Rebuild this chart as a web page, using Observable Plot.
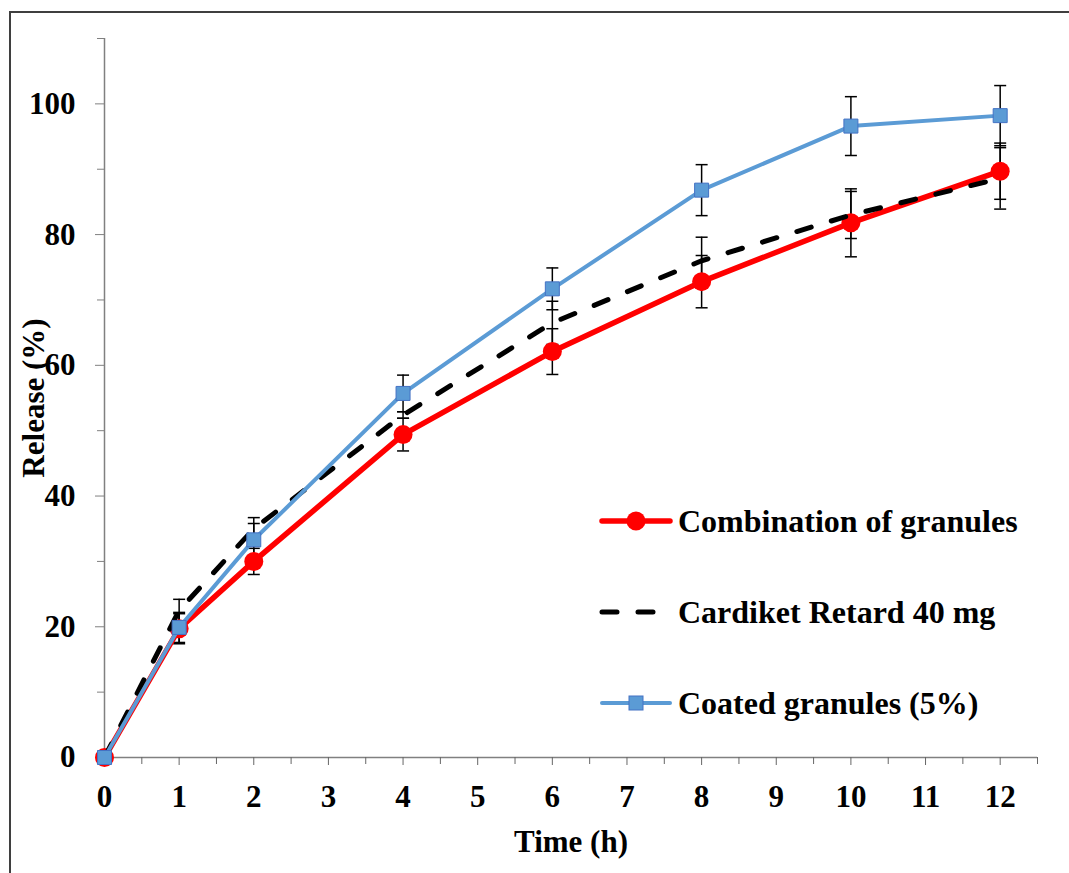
<!DOCTYPE html>
<html>
<head>
<meta charset="utf-8">
<script src="https://cdn.jsdelivr.net/npm/d3@7"></script>
<script src="https://cdn.jsdelivr.net/npm/@observablehq/plot@0.6"></script>
<style>
  html, body { margin: 0; padding: 0; background: #fff; }
  #wrap { position: relative; width: 1069px; height: 873px; overflow: hidden; background: #fff; }
  #wrap > svg { position: absolute; left: 0; top: 0; }
  #frame { position: absolute; left: 9px; top: 11px; width: 1200px; height: 1000px;
           border-top: 2px solid #3f3f3f; border-left: 2px solid #3f3f3f; pointer-events: none; }
  #legend { position: absolute; left: 0; top: 0; }
</style>
</head>
<body>
<div id="wrap"><div id="frame"></div></div>
<script>
// ---- data ----
const time = [0, 1, 2, 4, 6, 8, 10, 12];
const seriesNames = ["Combination of granules", "Cardiket Retard 40 mg", "Coated granules (5%)"];
const combination   = [0, 19.7, 30.0, 49.4, 62.1, 72.8, 81.8, 89.7];
const combinationSd = [0, 2.3, 2.0, 2.5, 3.5, 4.0, 5.2, 4.3];
const cardiket      = [0, 22.5, 35.0, 52.4, 66.5, 76.0, 83.0, 88.6];
const cardiketSd    = [0, 1.7, 0.8, 0.5, 3.3, 3.6, 3.6, 4.7];
const coated        = [0, 19.9, 33.3, 55.7, 71.7, 86.8, 96.6, 98.2];
const coatedSd      = [0, 2.3, 3.4, 2.8, 3.2, 3.9, 4.5, 4.6];
const xTicks = [0, 1, 2, 3, 4, 5, 6, 7, 8, 9, 10, 11, 12];
const xMinorTicks = [0.5, 1.5, 2.5, 3.5, 4.5, 5.5, 6.5, 7.5, 8.5, 9.5, 10.5, 11.5, 12.5];
const yTicks = [0, 20, 40, 60, 80, 100];
const yMinorTicks = [10, 30, 50, 70, 90, 110];

const rows = (vals, sds) => time.map((t, i) => ({t, v: vals[i], sd: sds[i]}));
const red = rows(combination, combinationSd);
const blk = rows(cardiket, cardiketSd);
const blu = rows(coated, coatedSd);
const allErr = [...red, ...blk, ...blu].filter(d => d.sd > 0);
const caps = allErr.flatMap(d => [{t: d.t, y: d.v + d.sd}, {t: d.t, y: d.v - d.sd}]);

const capSymbol = { draw(ctx) { ctx.moveTo(-6, 0); ctx.lineTo(6, 0); } };

const FONT = "'Liberation Serif', 'Times New Roman', serif";
const axisColor = "#808080";

const chart = Plot.plot({
  width: 1069,
  height: 873,
  marginLeft: 104,
  marginRight: 32,
  marginTop: 38,
  marginBottom: 116,
  style: { fontFamily: FONT, fontSize: "31px", fontWeight: "bold", color: "black", background: "transparent" },
  x: { domain: [0, 12.5] },
  y: { domain: [0, 110] },
  marks: [
    // axes
    Plot.ruleY([0], { stroke: axisColor, strokeWidth: 1.5 }),
    Plot.ruleX([0], { stroke: axisColor, strokeWidth: 1.5 }),
    Plot.axisX(xTicks, { tickSize: 8, tickPadding: 19, stroke: "#666", label: null, fontSize: 31, fontWeight: "bold", fontFamily: FONT }),
    Plot.axisX(xMinorTicks, { tickSize: 7, tickFormat: () => "", stroke: "#666", label: null }),
    Plot.axisY(yTicks, { tickSize: 9, tickPadding: 20, stroke: axisColor, label: null, fontSize: 31, fontWeight: "bold", fontFamily: FONT }),
    Plot.axisY(yMinorTicks, { tickSize: 7, tickFormat: () => "", stroke: axisColor, label: null }),
    // axis titles
    Plot.text(["Time (h)"], { frameAnchor: "bottom", dy: 85, lineAnchor: "middle", fontSize: 31, fontWeight: "bold", fontFamily: FONT, fill: "black" }),
    Plot.text(["Release (%)"], { frameAnchor: "left", dx: -70, rotate: -90, lineAnchor: "middle", textAnchor: "middle", fontSize: 31, fontWeight: "bold", fontFamily: FONT, fill: "black" }),
    // error bars
    Plot.ruleX(allErr, { x: "t", y1: d => d.v - d.sd, y2: d => d.v + d.sd, stroke: "black", strokeWidth: 1.5 }),
    Plot.dot(caps, { x: "t", y: "y", symbol: capSymbol, r: 5, stroke: "black", strokeWidth: 1.5, fill: "none" }),
    // series
    Plot.line(red, { x: "t", y: "v", stroke: "#FF0000", strokeWidth: 5.5 }),
    Plot.dot(red, { x: "t", y: "v", r: 9.5, fill: "#FF0000", stroke: "none" }),
    Plot.line(blk, { x: "t", y: "v", stroke: "black", strokeWidth: 5, strokeDasharray: "15,21", strokeLinecap: "round" }),
    Plot.line(blu, { x: "t", y: "v", stroke: "#5B9BD5", strokeWidth: 4 }),
    Plot.dot(blu, { x: "t", y: "v", symbol: "square", r: 7.9, fill: "#5B9BD5", stroke: "#4472C4", strokeWidth: 1 })
  ]
});
document.getElementById("wrap").appendChild(chart);

// ---- legend (inside the plot area, right side) ----
const legendItems = [
  { label: seriesNames[0], stroke: "#FF0000", width: 5.5, dash: null, marker: "circle" },
  { label: seriesNames[1], stroke: "black", width: 5, dash: "15,21", marker: null },
  { label: seriesNames[2], stroke: "#5B9BD5", width: 4, dash: null, marker: "square" }
];
const lg = d3.select("#wrap").append("svg").attr("id", "legend").attr("width", 1069).attr("height", 873);
const rowsG = lg.selectAll("g").data(legendItems).join("g")
  .attr("transform", (d, i) => `translate(600, ${521 + i * 91})`);
rowsG.append("line").attr("x1", 2).attr("x2", 70).attr("y1", 0).attr("y2", 0)
  .attr("stroke", d => d.stroke).attr("stroke-width", d => d.width)
  .attr("stroke-linecap", "round").attr("stroke-dasharray", d => d.dash);
rowsG.filter(d => d.marker === "circle").append("circle").attr("cx", 36).attr("cy", 0).attr("r", 9.5).attr("fill", "#FF0000");
rowsG.filter(d => d.marker === "square").append("rect").attr("x", 29).attr("y", -7).attr("width", 14).attr("height", 14)
  .attr("fill", "#5B9BD5").attr("stroke", "#4472C4").attr("stroke-width", 1);
rowsG.append("text").attr("x", 78).attr("y", 0).attr("dy", "0.34em")
  .attr("font-family", FONT).attr("font-weight", "bold").attr("font-size", 32).attr("fill", "black")
  .text(d => d.label);
</script>
</body>
</html>
